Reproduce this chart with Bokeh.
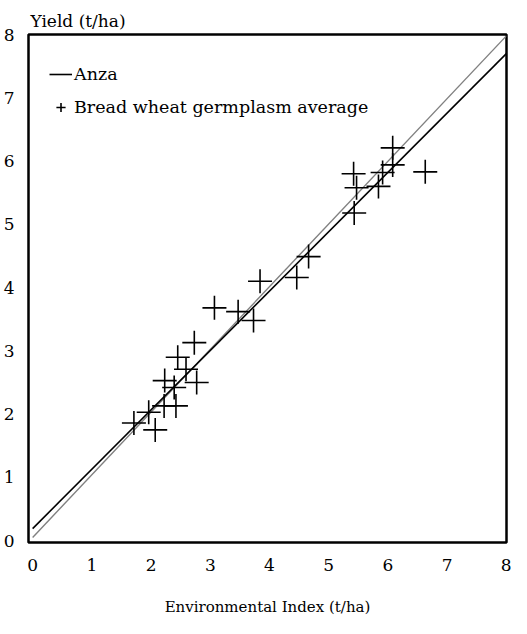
from bokeh.plotting import figure
from bokeh.models import Range1d, Legend, LegendItem, FixedTicker
from bokeh.embed import file_html
from bokeh.resources import INLINE

# Bread wheat germplasm average (environmental index vs yield, t/ha)
env_index = [1.71, 2.07, 1.96, 2.22, 2.42, 2.23, 2.39, 2.77, 2.45, 2.59, 2.73,
             3.07, 3.47, 3.73, 3.84, 4.46, 4.66,
             5.43, 5.42, 5.47, 5.84, 5.91, 6.08, 6.08, 6.63]
avg_yield = [1.86, 1.75, 2.03, 2.13, 2.13, 2.53, 2.42, 2.50, 2.90, 2.71, 3.13,
             3.68, 3.62, 3.48, 4.10, 4.16, 4.49,
             5.18, 5.80, 5.58, 5.60, 5.82, 5.94, 6.21, 5.83]

# Regression lines (endpoints at environmental index 0 and 8)
line_x = [0, 8]
anza_y = [0.19, 7.70]
avg_line_y = [0.05, 7.98]

ticks = [0, 1, 2, 3, 4, 5, 6, 7, 8]
FONT = "DejaVu Serif"

p = figure(width=511, height=618, output_backend="svg", toolbar_location=None,
           x_range=Range1d(-0.07, 8.002), y_range=Range1d(-0.03, 8.002),
           min_border_left=23, min_border_right=5, min_border_top=34,
           min_border_bottom=73, title="Yield (t/ha)")

p.background_fill_color = "white"
p.border_fill_color = "white"
p.outline_line_color = "black"
p.outline_line_width = 2.5
p.grid.visible = False

p.title.text_font = FONT
p.title.text_font_size = "17px"
p.title.text_font_style = "normal"
p.title.text_color = "black"
p.title.align = "left"
p.title.offset = 2
p.title.standoff = 7

for ax in (p.xaxis[0], p.yaxis[0]):
    ax.ticker = FixedTicker(ticks=ticks)
    ax.axis_line_color = None
    ax.major_tick_line_color = None
    ax.minor_tick_line_color = None
    ax.major_label_text_font = FONT
    ax.major_label_text_font_size = "17px"
    ax.major_label_text_color = "black"

p.xaxis.major_label_standoff = 10
p.yaxis.major_label_standoff = 8
p.xaxis.axis_label = "Environmental Index (t/ha)"
p.xaxis.axis_label_text_font = FONT
p.xaxis.axis_label_text_font_size = "15px"
p.xaxis.axis_label_text_font_style = "normal"
p.xaxis.axis_label_text_color = "black"
p.xaxis.axis_label_standoff = 24

avg_line = p.line(line_x, avg_line_y, line_color="#808080", line_width=1.4)
anza = p.line(line_x, anza_y, line_color="black", line_width=1.6)
pts = p.scatter(env_index, avg_yield, marker="cross", size=24,
                line_color="black", line_width=1.6)

legend = Legend(items=[LegendItem(label="Anza", renderers=[anza]),
                       LegendItem(label="Bread wheat germplasm average", renderers=[pts])],
                location=(21, 420), margin=0, padding=0,
                glyph_width=23, glyph_height=30, spacing=3, label_standoff=2,
                border_line_color=None, background_fill_alpha=0,
                label_text_font=FONT, label_text_font_size="17.5px",
                label_text_color="black")
p.add_layout(legend, "center")

open("out.html", "w").write(file_html(p, INLINE))
